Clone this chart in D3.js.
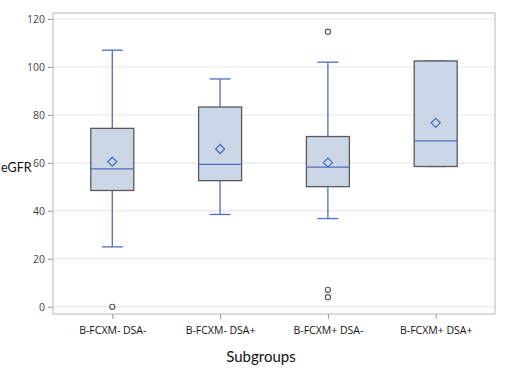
<!DOCTYPE html>
<html>
<head>
<meta charset="utf-8">
<script src="https://d3js.org/d3.v7.min.js"></script>
<style>
  body { margin: 0; background: #fff; }
  text { font-family: "Open Sans", "Noto Sans", sans-serif; }
</style>
</head>
<body>
<div id="chart"></div>
<script>
// box plot values
var groups = ["B-FCXM- DSA-", "B-FCXM- DSA+", "B-FCXM+ DSA-", "B-FCXM+ DSA+"];
var whiskerLow = [25, 38.5, 36.8, 58.5];
var q1 = [48.5, 52.6, 50.1, 58.5];
var median = [57.5, 59.4, 58.2, 69.2];
var q3 = [74.4, 83.3, 71, 102.5];
var whiskerHigh = [107, 95, 102, 102.5];
var means = [60.5, 65.8, 60.1, 76.7];
var outliers = [[0], [], [114.7, 7.1, 4.0], []];
var yTicks = [0, 20, 40, 60, 80, 100, 120];

var W = 528, H = 374;
var margin = {top: 13, right: 33, bottom: 60, left: 53},
    width = W - margin.left - margin.right,
    height = H - margin.top - margin.bottom;

var svg = d3.select("#chart").append("svg")
    .attr("width", W)
    .attr("height", H);

var g = svg.append("g")
    .attr("transform", "translate(" + margin.left + "," + margin.top + ")");

var x = d3.scalePoint().domain(groups).range([0, width]).padding(0.55);
var y = d3.scaleLinear().domain([-3, 122.5]).range([height, 0]);

var boxW = 43, capW = 21;
var blue = "#4c6fbf";

// grid
g.selectAll(".grid")
    .data(yTicks)
    .enter().append("line")
    .attr("x1", 0).attr("x2", width)
    .attr("y1", function(d) { return y(d); })
    .attr("y2", function(d) { return y(d); })
    .attr("stroke", "#ececec")
    .attr("stroke-width", 1.5);

var data = groups.map(function(name, i) {
  return {name: name, lo: whiskerLow[i], q1: q1[i], med: median[i], q3: q3[i],
          hi: whiskerHigh[i], mean: means[i], out: outliers[i]};
});

var box = g.selectAll(".box")
    .data(data)
    .enter().append("g")
    .attr("class", "box")
    .attr("transform", function(d) { return "translate(" + x(d.name) + ",0)"; });

// whiskers
box.append("line")
    .attr("y1", function(d) { return y(d.hi); })
    .attr("y2", function(d) { return y(d.q3); })
    .attr("stroke", blue).attr("stroke-width", 1.3);
box.append("line")
    .attr("y1", function(d) { return y(d.q1); })
    .attr("y2", function(d) { return y(d.lo); })
    .attr("stroke", blue).attr("stroke-width", 1.3);
box.append("line")
    .attr("x1", -capW / 2).attr("x2", capW / 2)
    .attr("y1", function(d) { return y(d.hi); })
    .attr("y2", function(d) { return y(d.hi); })
    .attr("stroke", blue).attr("stroke-width", 1.3);
box.append("line")
    .attr("x1", -capW / 2).attr("x2", capW / 2)
    .attr("y1", function(d) { return y(d.lo); })
    .attr("y2", function(d) { return y(d.lo); })
    .attr("stroke", blue).attr("stroke-width", 1.3);

box.append("rect")
    .attr("x", -boxW / 2)
    .attr("width", boxW)
    .attr("y", function(d) { return y(d.q3); })
    .attr("height", function(d) { return y(d.q1) - y(d.q3); })
    .attr("fill", "#cbd6e7")
    .attr("stroke", "#5a5a5a")
    .attr("stroke-width", 1.3);

box.append("line")
    .attr("x1", -boxW / 2).attr("x2", boxW / 2)
    .attr("y1", function(d) { return y(d.med); })
    .attr("y2", function(d) { return y(d.med); })
    .attr("stroke", blue).attr("stroke-width", 1.3);

// mean diamond
box.append("path")
    .attr("d", "M0,-4.5L4.5,0L0,4.5L-4.5,0Z")
    .attr("transform", function(d) { return "translate(0," + y(d.mean) + ")"; })
    .attr("fill", "none")
    .attr("stroke", blue)
    .attr("stroke-width", 1.3);

box.selectAll(".outlier")
    .data(function(d) { return d.out; })
    .enter().append("circle")
    .attr("cy", function(d) { return y(d); })
    .attr("r", 2.6)
    .attr("fill", "none")
    .attr("stroke", "#555")
    .attr("stroke-width", 1.1);

// frame
g.append("rect")
    .attr("width", width).attr("height", height)
    .attr("fill", "none")
    .attr("stroke", "#c9c9c9")
    .attr("stroke-width", 1.3);

// axes
var yAxis = d3.axisLeft(y).tickValues(yTicks).tickSize(5).tickPadding(3);
var gy = g.append("g").call(yAxis);
gy.select(".domain").remove();
gy.selectAll(".tick line").attr("stroke", "#999");
gy.selectAll(".tick text").attr("fill", "#444").style("font-size", "10.5px");

var xAxis = d3.axisBottom(x).tickSize(5).tickPadding(8);
var gx = g.append("g").attr("transform", "translate(0," + height + ")").call(xAxis);
gx.select(".domain").remove();
gx.selectAll(".tick line").attr("stroke", "#999");
gx.selectAll(".tick text").attr("fill", "#111").style("font-size", "10.5px");

svg.append("text")
    .attr("x", 1).attr("y", 172)
    .attr("fill", "#111")
    .style("font-family", "Lato, sans-serif")
    .style("font-size", "12.5px")
    .text("eGFR");

svg.append("text")
    .attr("x", 261).attr("y", 362)
    .attr("text-anchor", "middle")
    .attr("fill", "#111")
    .style("font-family", "Lato, sans-serif")
    .style("font-size", "15px")
    .text("Subgroups");
</script>
</body>
</html>
